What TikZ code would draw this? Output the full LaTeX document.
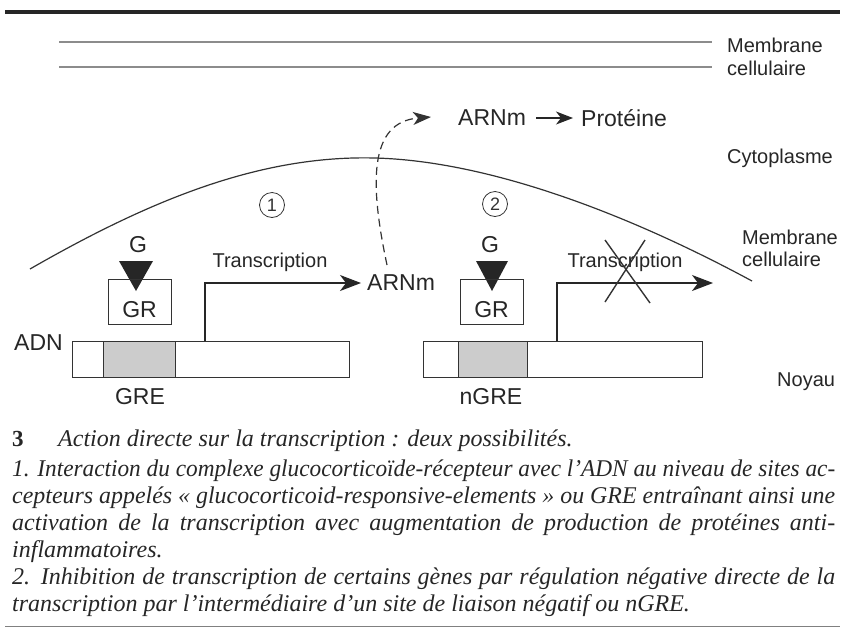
\documentclass[tikz,border=0pt]{standalone}
\usepackage{fontspec}
\usepackage{graphicx}
\setmainfont{Liberation Serif}
\newfontfamily\arialf{Liberation Sans}
\usetikzlibrary{arrows.meta}
\newsavebox\capbox
\newcommand\jline[1]{\sbox\capbox{#1}\ifdim\wd\capbox>823pt \resizebox{823pt}{\height}{\usebox\capbox}\else\makebox[823pt][s]{#1}\fi}
\begin{document}
\begin{tikzpicture}[x=1pt,y=-1pt,
  lab/.style={font=\arialf\fontsize{20}{20}\selectfont, inner sep=0pt, text=black!85},
  big/.style={font=\arialf\fontsize{23}{23}\selectfont, inner sep=0pt, text=black!85},
  arr/.style={-{Stealth[length=21pt,width=16pt,inset=6pt]}, line width=1.2pt, black!85},
  arrs/.style={-{Stealth[length=17pt,width=13pt,inset=5pt]}, line width=1.2pt, black!85},
  boxline/.style={line width=1pt, black!80},
  captxt/.style={font=\fontsize{24}{24}\selectfont\itshape, inner sep=0pt, anchor=base west, text=black!85},
  num/.style={circle, draw=black!80, line width=0.8pt, inner sep=0pt, minimum size=25pt, font=\arialf\fontsize{18}{18}\selectfont, text=black!80},
  memb/.style={line width=1.6pt, black!45},
  dsh/.style={dash pattern=on 8pt off 5pt, line width=1.2pt, black!80, -{Stealth[length=18pt,width=13pt,inset=5pt]}}
]
\useasboundingbox (0,0) rectangle (845,630);
% top rule
\draw[line width=3.5pt, black!85] (5,12) -- (840,12);
% membrane lines
\draw[memb] (59,42) -- (712,42);
\draw[memb] (59,67) -- (712,67);
\node[lab, anchor=west] (memA) at (727,45) {Membrane};
\node[lab, anchor=west] (celA) at (727,68) {cellulaire};
% ARNm -> Proteine
\node[big, anchor=west] (arnm2) at (458,118) {ARNm};
\node[big, anchor=west] (prot) at (581,118) {Protéine};
\draw[arrs] ([xshift=10pt]arnm2.east) -- ([xshift=-8pt]prot.west);
\node[lab, anchor=west] (cyto) at (727,158) {Cytoplasme};
% nuclear membrane arc
\draw[line width=1.2pt, black!80] (30,269) .. controls (150,200) and (260,155) .. (375,158)
   .. controls (490,161) and (630,215) .. (752,281);
\node[lab, anchor=west] (memB) at (742,237) {Membrane};
\node[lab, anchor=west] (celB) at (742,259) {cellulaire};
\node[lab, anchor=west] (noy) at (777,382) {Noyau};
% circled numbers
\node[num] (n1) at (272,205) {1};
\node[num] (n2) at (495,204) {2};
% ---- left group
\node[big] (g1) at (138,245) {G};
\fill[black!85] (119,261) -- (153,261) -- (136,291) -- cycle;
\draw[boxline] (108,279) rectangle (171,324);
\node[big] (gr1) at (139.5,310) {GR};
\draw[boxline] (72,341) rectangle (349,377);
\filldraw[boxline, fill=black!20] (103,341) rectangle (175,377);
\node[big, anchor=east] (adn) at (63,343) {ADN};
\node[big] (gre) at (140,397) {GRE};
\node[lab] (tr1) at (270,262) {Transcription};
\node[big, anchor=west] (arnm1) at (367,283) {ARNm};
\coordinate (t1) at (205,341);
\draw[arr] (t1) |- ([xshift=-6pt]arnm1.west);
\coordinate (d0) at (387,265);
\coordinate (d1) at (431,117);
\draw[dsh] (d0) .. controls (370,185) and (368,122) .. (d1);
% ---- right group
\node[big] (g2) at (490,245) {G};
\fill[black!85] (476,261) -- (508,261) -- (492,291) -- cycle;
\draw[boxline] (460,279) rectangle (523,324);
\node[big] (gr2) at (491.5,310) {GR};
\draw[boxline] (423,341) rectangle (702,377);
\filldraw[boxline, fill=black!20] (458,341) rectangle (527,377);
\node[big] (ngre) at (491,397) {nGRE};
\node[lab] (tr2) at (625,262) {Transcription};
\coordinate (t2) at (557,341);
\coordinate (t2e) at (713,283);
\draw[arr] (t2) |- (t2e);
\draw[line width=1.4pt, black!80] (605,240) -- (650,303);
\draw[line width=1.4pt, black!80] (645,240) -- (605,302);
% ---- caption
\node[inner sep=0pt, anchor=base west, font=\fontsize{23}{23}\selectfont\bfseries, text=black!85] (c0) at (12,446) {3};
\node[captxt] (c1) at (58,446) {Action directe sur la transcription : deux possibilités.};
\node[captxt] (c2) at (12,476) {\jline{1. Interaction du complexe glucocorticoïde-récepteur avec l’ADN au niveau de sites ac-}};
\node[captxt] (c3) at (12,503) {\jline{cepteurs appelés « glucocorticoid-responsive-elements » ou GRE entraînant ainsi une}};
\node[captxt] (c4) at (12,530) {\jline{activation de la transcription avec augmentation de production de protéines anti-}};
\node[captxt] (c5) at (12,557) {inflammatoires.};
\node[captxt] (c6) at (12,584) {\jline{2. Inhibition de transcription de certains gènes par régulation négative directe de la}};
\node[captxt] (c7) at (12,611) {transcription par l’intermédiaire d’un site de liaison négatif ou nGRE.};
\draw[line width=1pt, black!50] (5,626) -- (840,626);
\end{tikzpicture}
\end{document}
